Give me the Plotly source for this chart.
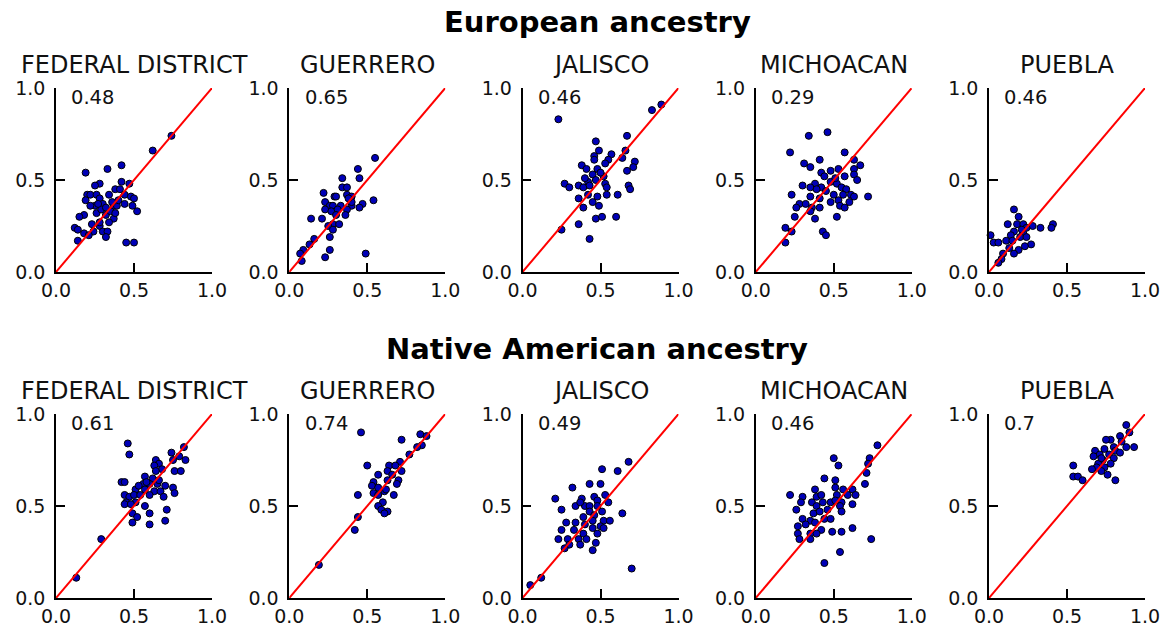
import plotly.graph_objects as go

# ---------------------------------------------------------------- data
STATES = ["FEDERAL DISTRICT", "GUERRERO", "JALISCO", "MICHOACAN", "PUEBLA"]
ROW_TITLES = ["European ancestry", "Native American ancestry"]
TICK_VALUES = [0, 0.5, 1.0]
TICK_LABELS = ["0.0", "0.5", "1.0"]

# correlation shown in each panel
EUR_CORR = ["0.48", "0.65", "0.46", "0.29", "0.46"]
NAT_CORR = ["0.61", "0.74", "0.49", "0.46", "0.7"]

# (x, y) ancestry proportion pairs per state
eur_federal = [(0.74, 0.74), (0.62, 0.66), (0.19, 0.54), (0.33, 0.56), (0.42, 0.58), (0.28, 0.48), (0.25, 0.47),
               (0.42, 0.49), (0.47, 0.48), (0.38, 0.45), (0.20, 0.42), (0.22, 0.42), (0.26, 0.42), (0.28, 0.40),
               (0.34, 0.42), (0.44, 0.42), (0.48, 0.41), (0.50, 0.40), (0.19, 0.39), (0.25, 0.36), (0.30, 0.37),
               (0.37, 0.36), (0.44, 0.37), (0.49, 0.36), (0.52, 0.33), (0.18, 0.31), (0.15, 0.30), (0.26, 0.32),
               (0.32, 0.31), (0.37, 0.29), (0.12, 0.24), (0.14, 0.23), (0.28, 0.25), (0.24, 0.22), (0.30, 0.22),
               (0.18, 0.21), (0.21, 0.20), (0.33, 0.22), (0.32, 0.19), (0.14, 0.17), (0.45, 0.16), (0.50, 0.16),
               (0.28, 0.27), (0.34, 0.27), (0.39, 0.36), (0.40, 0.39), (0.35, 0.33), (0.29, 0.34), (0.38, 0.32),
               (0.23, 0.26), (0.27, 0.37), (0.32, 0.35), (0.36, 0.38), (0.41, 0.45), (0.22, 0.36)]
eur_guerrero = [(0.55, 0.62), (0.44, 0.56), (0.45, 0.51), (0.34, 0.51), (0.34, 0.46), (0.37, 0.46), (0.22, 0.43),
                (0.29, 0.41), (0.30, 0.41), (0.37, 0.42), (0.40, 0.41), (0.23, 0.38), (0.26, 0.36), (0.28, 0.36),
                (0.33, 0.36), (0.40, 0.36), (0.47, 0.37), (0.54, 0.39), (0.45, 0.35), (0.23, 0.34), (0.27, 0.33),
                (0.31, 0.34), (0.37, 0.34), (0.30, 0.31), (0.36, 0.31), (0.14, 0.29), (0.21, 0.29), (0.28, 0.26),
                (0.32, 0.26), (0.25, 0.25), (0.28, 0.23), (0.26, 0.19), (0.16, 0.18), (0.13, 0.15), (0.09, 0.12),
                (0.07, 0.10), (0.08, 0.06), (0.26, 0.12), (0.23, 0.08), (0.49, 0.10), (0.40, 0.38), (0.38, 0.40)]
eur_jalisco = [(0.23, 0.83), (0.83, 0.88), (0.89, 0.91), (0.67, 0.74), (0.47, 0.71), (0.49, 0.66), (0.46, 0.63),
               (0.57, 0.64), (0.66, 0.66), (0.64, 0.62), (0.55, 0.61), (0.72, 0.60), (0.38, 0.58), (0.46, 0.61),
               (0.53, 0.59), (0.71, 0.57), (0.41, 0.56), (0.48, 0.56), (0.67, 0.55), (0.45, 0.53), (0.52, 0.52),
               (0.47, 0.50), (0.42, 0.49), (0.27, 0.48), (0.30, 0.46), (0.36, 0.47), (0.39, 0.46), (0.43, 0.47),
               (0.53, 0.48), (0.54, 0.46), (0.68, 0.47), (0.69, 0.45), (0.36, 0.40), (0.42, 0.42), (0.48, 0.41),
               (0.54, 0.42), (0.61, 0.42), (0.45, 0.38), (0.49, 0.36), (0.39, 0.35), (0.47, 0.29), (0.51, 0.30),
               (0.60, 0.30), (0.36, 0.26), (0.25, 0.23), (0.43, 0.18), (0.40, 0.51), (0.50, 0.54)]
eur_michoacan = [(0.46, 0.76), (0.34, 0.74), (0.22, 0.65), (0.41, 0.61), (0.57, 0.65), (0.31, 0.59), (0.35, 0.57),
                 (0.63, 0.61), (0.67, 0.58), (0.63, 0.56), (0.42, 0.54), (0.48, 0.55), (0.53, 0.56), (0.63, 0.53),
                 (0.57, 0.52), (0.65, 0.50), (0.38, 0.48), (0.48, 0.49), (0.30, 0.47), (0.35, 0.46), (0.42, 0.46),
                 (0.52, 0.48), (0.55, 0.46), (0.58, 0.45), (0.39, 0.45), (0.45, 0.44), (0.23, 0.42), (0.50, 0.42),
                 (0.56, 0.42), (0.61, 0.42), (0.63, 0.41), (0.72, 0.41), (0.35, 0.41), (0.41, 0.40), (0.53, 0.39),
                 (0.60, 0.38), (0.28, 0.37), (0.32, 0.37), (0.48, 0.38), (0.26, 0.35), (0.36, 0.35), (0.41, 0.35),
                 (0.54, 0.36), (0.57, 0.35), (0.35, 0.33), (0.25, 0.30), (0.38, 0.29), (0.52, 0.30), (0.19, 0.24),
                 (0.23, 0.22), (0.43, 0.22), (0.45, 0.20), (0.19, 0.16), (0.44, 0.52), (0.51, 0.51)]
eur_puebla = [(0.16, 0.34), (0.19, 0.30), (0.12, 0.26), (0.18, 0.26), (0.22, 0.26), (0.28, 0.25), (0.33, 0.24),
              (0.41, 0.26), (0.40, 0.24), (0.24, 0.24), (0.16, 0.22), (0.22, 0.21), (0.14, 0.20), (0.20, 0.19),
              (0.24, 0.19), (0.01, 0.20), (0.03, 0.16), (0.06, 0.16), (0.11, 0.17), (0.15, 0.17), (0.27, 0.15),
              (0.23, 0.14), (0.19, 0.12), (0.16, 0.10), (0.09, 0.10), (0.08, 0.07), (0.06, 0.05), (0.13, 0.13),
              (0.21, 0.23)]

nat_federal = [(0.46, 0.84), (0.47, 0.78), (0.82, 0.82), (0.74, 0.79), (0.79, 0.77), (0.83, 0.75), (0.75, 0.75),
               (0.64, 0.75), (0.66, 0.73), (0.63, 0.72), (0.68, 0.70), (0.64, 0.69), (0.76, 0.69), (0.80, 0.69),
               (0.57, 0.66), (0.62, 0.65), (0.42, 0.63), (0.44, 0.63), (0.56, 0.62), (0.60, 0.62), (0.65, 0.62),
               (0.70, 0.61), (0.75, 0.60), (0.51, 0.59), (0.57, 0.59), (0.63, 0.58), (0.67, 0.58), (0.76, 0.57),
               (0.44, 0.56), (0.47, 0.55), (0.50, 0.56), (0.54, 0.56), (0.60, 0.56), (0.69, 0.55), (0.45, 0.52),
               (0.51, 0.52), (0.44, 0.51), (0.48, 0.51), (0.57, 0.50), (0.71, 0.48), (0.49, 0.46), (0.52, 0.44),
               (0.60, 0.46), (0.70, 0.42), (0.49, 0.41), (0.60, 0.40), (0.29, 0.32), (0.13, 0.11), (0.58, 0.63),
               (0.53, 0.61), (0.66, 0.64)]
nat_guerrero = [(0.46, 0.90), (0.84, 0.89), (0.88, 0.88), (0.72, 0.86), (0.85, 0.83), (0.82, 0.82), (0.77, 0.78),
                (0.71, 0.74), (0.64, 0.72), (0.68, 0.72), (0.50, 0.72), (0.63, 0.69), (0.72, 0.69), (0.66, 0.67),
                (0.57, 0.67), (0.70, 0.64), (0.54, 0.63), (0.63, 0.64), (0.69, 0.62), (0.53, 0.61), (0.57, 0.60),
                (0.54, 0.57), (0.61, 0.58), (0.67, 0.56), (0.57, 0.56), (0.44, 0.56), (0.60, 0.52), (0.57, 0.50),
                (0.59, 0.48), (0.63, 0.47), (0.61, 0.46), (0.44, 0.44), (0.42, 0.37), (0.19, 0.18), (0.62, 0.59)]
nat_jalisco = [(0.68, 0.74), (0.51, 0.70), (0.61, 0.69), (0.32, 0.60), (0.43, 0.62), (0.50, 0.62), (0.21, 0.54),
               (0.38, 0.54), (0.46, 0.55), (0.53, 0.56), (0.48, 0.53), (0.55, 0.52), (0.34, 0.50), (0.40, 0.50),
               (0.43, 0.50), (0.48, 0.50), (0.25, 0.48), (0.43, 0.47), (0.51, 0.47), (0.64, 0.46), (0.39, 0.44),
               (0.46, 0.45), (0.52, 0.42), (0.56, 0.42), (0.28, 0.41), (0.45, 0.42), (0.40, 0.40), (0.50, 0.39),
               (0.25, 0.37), (0.33, 0.37), (0.45, 0.38), (0.52, 0.38), (0.39, 0.35), (0.48, 0.35), (0.23, 0.32),
               (0.29, 0.32), (0.36, 0.32), (0.41, 0.32), (0.30, 0.29), (0.37, 0.29), (0.47, 0.30), (0.27, 0.27),
               (0.45, 0.26), (0.70, 0.16), (0.12, 0.11), (0.05, 0.07), (0.37, 0.52), (0.34, 0.41)]
nat_michoacan = [(0.78, 0.83), (0.73, 0.76), (0.72, 0.73), (0.50, 0.76), (0.53, 0.72), (0.71, 0.68), (0.44, 0.65),
                 (0.51, 0.64), (0.70, 0.62), (0.38, 0.59), (0.51, 0.60), (0.56, 0.59), (0.62, 0.59), (0.22, 0.56),
                 (0.30, 0.55), (0.39, 0.55), (0.42, 0.56), (0.52, 0.56), (0.59, 0.56), (0.64, 0.56), (0.29, 0.52),
                 (0.36, 0.52), (0.43, 0.52), (0.48, 0.52), (0.55, 0.52), (0.62, 0.51), (0.26, 0.48), (0.39, 0.50),
                 (0.46, 0.48), (0.54, 0.50), (0.37, 0.46), (0.41, 0.47), (0.55, 0.47), (0.30, 0.43), (0.35, 0.42),
                 (0.44, 0.43), (0.32, 0.40), (0.38, 0.41), (0.27, 0.39), (0.42, 0.37), (0.27, 0.35), (0.35, 0.35),
                 (0.39, 0.35), (0.49, 0.36), (0.55, 0.36), (0.62, 0.38), (0.28, 0.32), (0.35, 0.32), (0.74, 0.32),
                 (0.54, 0.25), (0.44, 0.19), (0.48, 0.43), (0.51, 0.53)]
nat_puebla = [(0.88, 0.94), (0.90, 0.90), (0.84, 0.88), (0.78, 0.86), (0.75, 0.86), (0.85, 0.85), (0.93, 0.82),
              (0.88, 0.82), (0.80, 0.82), (0.74, 0.81), (0.68, 0.80), (0.81, 0.80), (0.84, 0.79), (0.71, 0.78),
              (0.77, 0.78), (0.67, 0.77), (0.73, 0.75), (0.80, 0.76), (0.70, 0.73), (0.78, 0.73), (0.54, 0.72),
              (0.69, 0.71), (0.74, 0.71), (0.66, 0.70), (0.72, 0.69), (0.76, 0.67), (0.54, 0.66), (0.57, 0.66),
              (0.60, 0.64), (0.81, 0.64), (0.72, 0.76)]

EUR_PANELS = [eur_federal, eur_guerrero, eur_jalisco, eur_michoacan, eur_puebla]
NAT_PANELS = [nat_federal, nat_guerrero, nat_jalisco, nat_michoacan, nat_puebla]

# ---------------------------------------------------------------- layout geometry
W, H = 1163, 633
FONT = "DejaVu Sans"
INK = "#111111"
PANEL_LEFT0, PANEL_STEP, PANEL_W = 56, 233.25, 156
ROW_PX = [(88, 272), (414, 598)]           # (top, bottom) pixel rows of the plotting areas
TITLE_PX = [65, 391]                        # state titles
SUPTITLE_PX = [22, 349]                     # row headings
SUPTITLE_X = 597


def px_x(p):
    return p / W


def px_y(p):
    return 1 - p / H


fig = go.Figure()
layout = dict(
    width=W, height=H,
    margin=dict(l=0, r=0, t=0, b=0, autoexpand=False),
    paper_bgcolor="white", plot_bgcolor="white",
    showlegend=False,
    annotations=[],
)

axis_common = dict(
    range=[0, 1], showgrid=False, zeroline=False, automargin=False,
    showline=True, linecolor="#000000", linewidth=1.5, mirror=False,
    ticks="inside", ticklen=9, tickwidth=1.5, tickcolor="#000000",
    tickvals=TICK_VALUES, ticktext=TICK_LABELS,
    tickfont=dict(family=FONT, size=19, color=INK),
)

rows = [(EUR_PANELS, EUR_CORR), (NAT_PANELS, NAT_CORR)]
idx = 0
for r, (panels, corrs) in enumerate(rows):
    top, bottom = ROW_PX[r]
    layout["annotations"].append(dict(
        text=f"<b>{ROW_TITLES[r]}</b>", xref="paper", yref="paper",
        x=px_x(SUPTITLE_X), y=px_y(SUPTITLE_PX[r]), xanchor="center", yanchor="middle",
        showarrow=False, font=dict(family=FONT, size=29, color="#000000"),
    ))
    for c, pts in enumerate(panels):
        idx += 1
        sfx = "" if idx == 1 else str(idx)
        left = PANEL_LEFT0 + c * PANEL_STEP
        layout[f"xaxis{sfx}"] = dict(axis_common, domain=[px_x(left), px_x(left + PANEL_W)], anchor=f"y{sfx}")
        layout[f"yaxis{sfx}"] = dict(axis_common, domain=[px_y(bottom), px_y(top)], anchor=f"x{sfx}",
                                     ticklabelstandoff=5)

        xs = [p[0] for p in pts]
        ys = [p[1] for p in pts]
        fig.add_trace(go.Scatter(
            x=xs, y=ys, mode="markers", xaxis=f"x{sfx}", yaxis=f"y{sfx}", cliponaxis=False,
            marker=dict(size=7, color="#0000b8", line=dict(color="#000000", width=1)),
        ))
        fig.add_trace(go.Scatter(
            x=[0, 1], y=[0, 1], mode="lines", xaxis=f"x{sfx}", yaxis=f"y{sfx}",
            line=dict(color="#ff0000", width=2),
        ))

        layout["annotations"].append(dict(
            text=STATES[c], xref="paper", yref="paper",
            x=px_x(left + PANEL_W / 2), y=px_y(TITLE_PX[r]), xanchor="center", yanchor="middle",
            showarrow=False, font=dict(family=FONT, size=24, color=INK),
        ))
        layout["annotations"].append(dict(
            text=corrs[c], xref=f"x{sfx}", yref=f"y{sfx}",
            x=0.085, y=0.95, xanchor="left", yanchor="middle",
            showarrow=False, font=dict(family=FONT, size=19.5, color=INK),
        ))

fig.update_layout(**layout)
fig.write_html("out.html")
